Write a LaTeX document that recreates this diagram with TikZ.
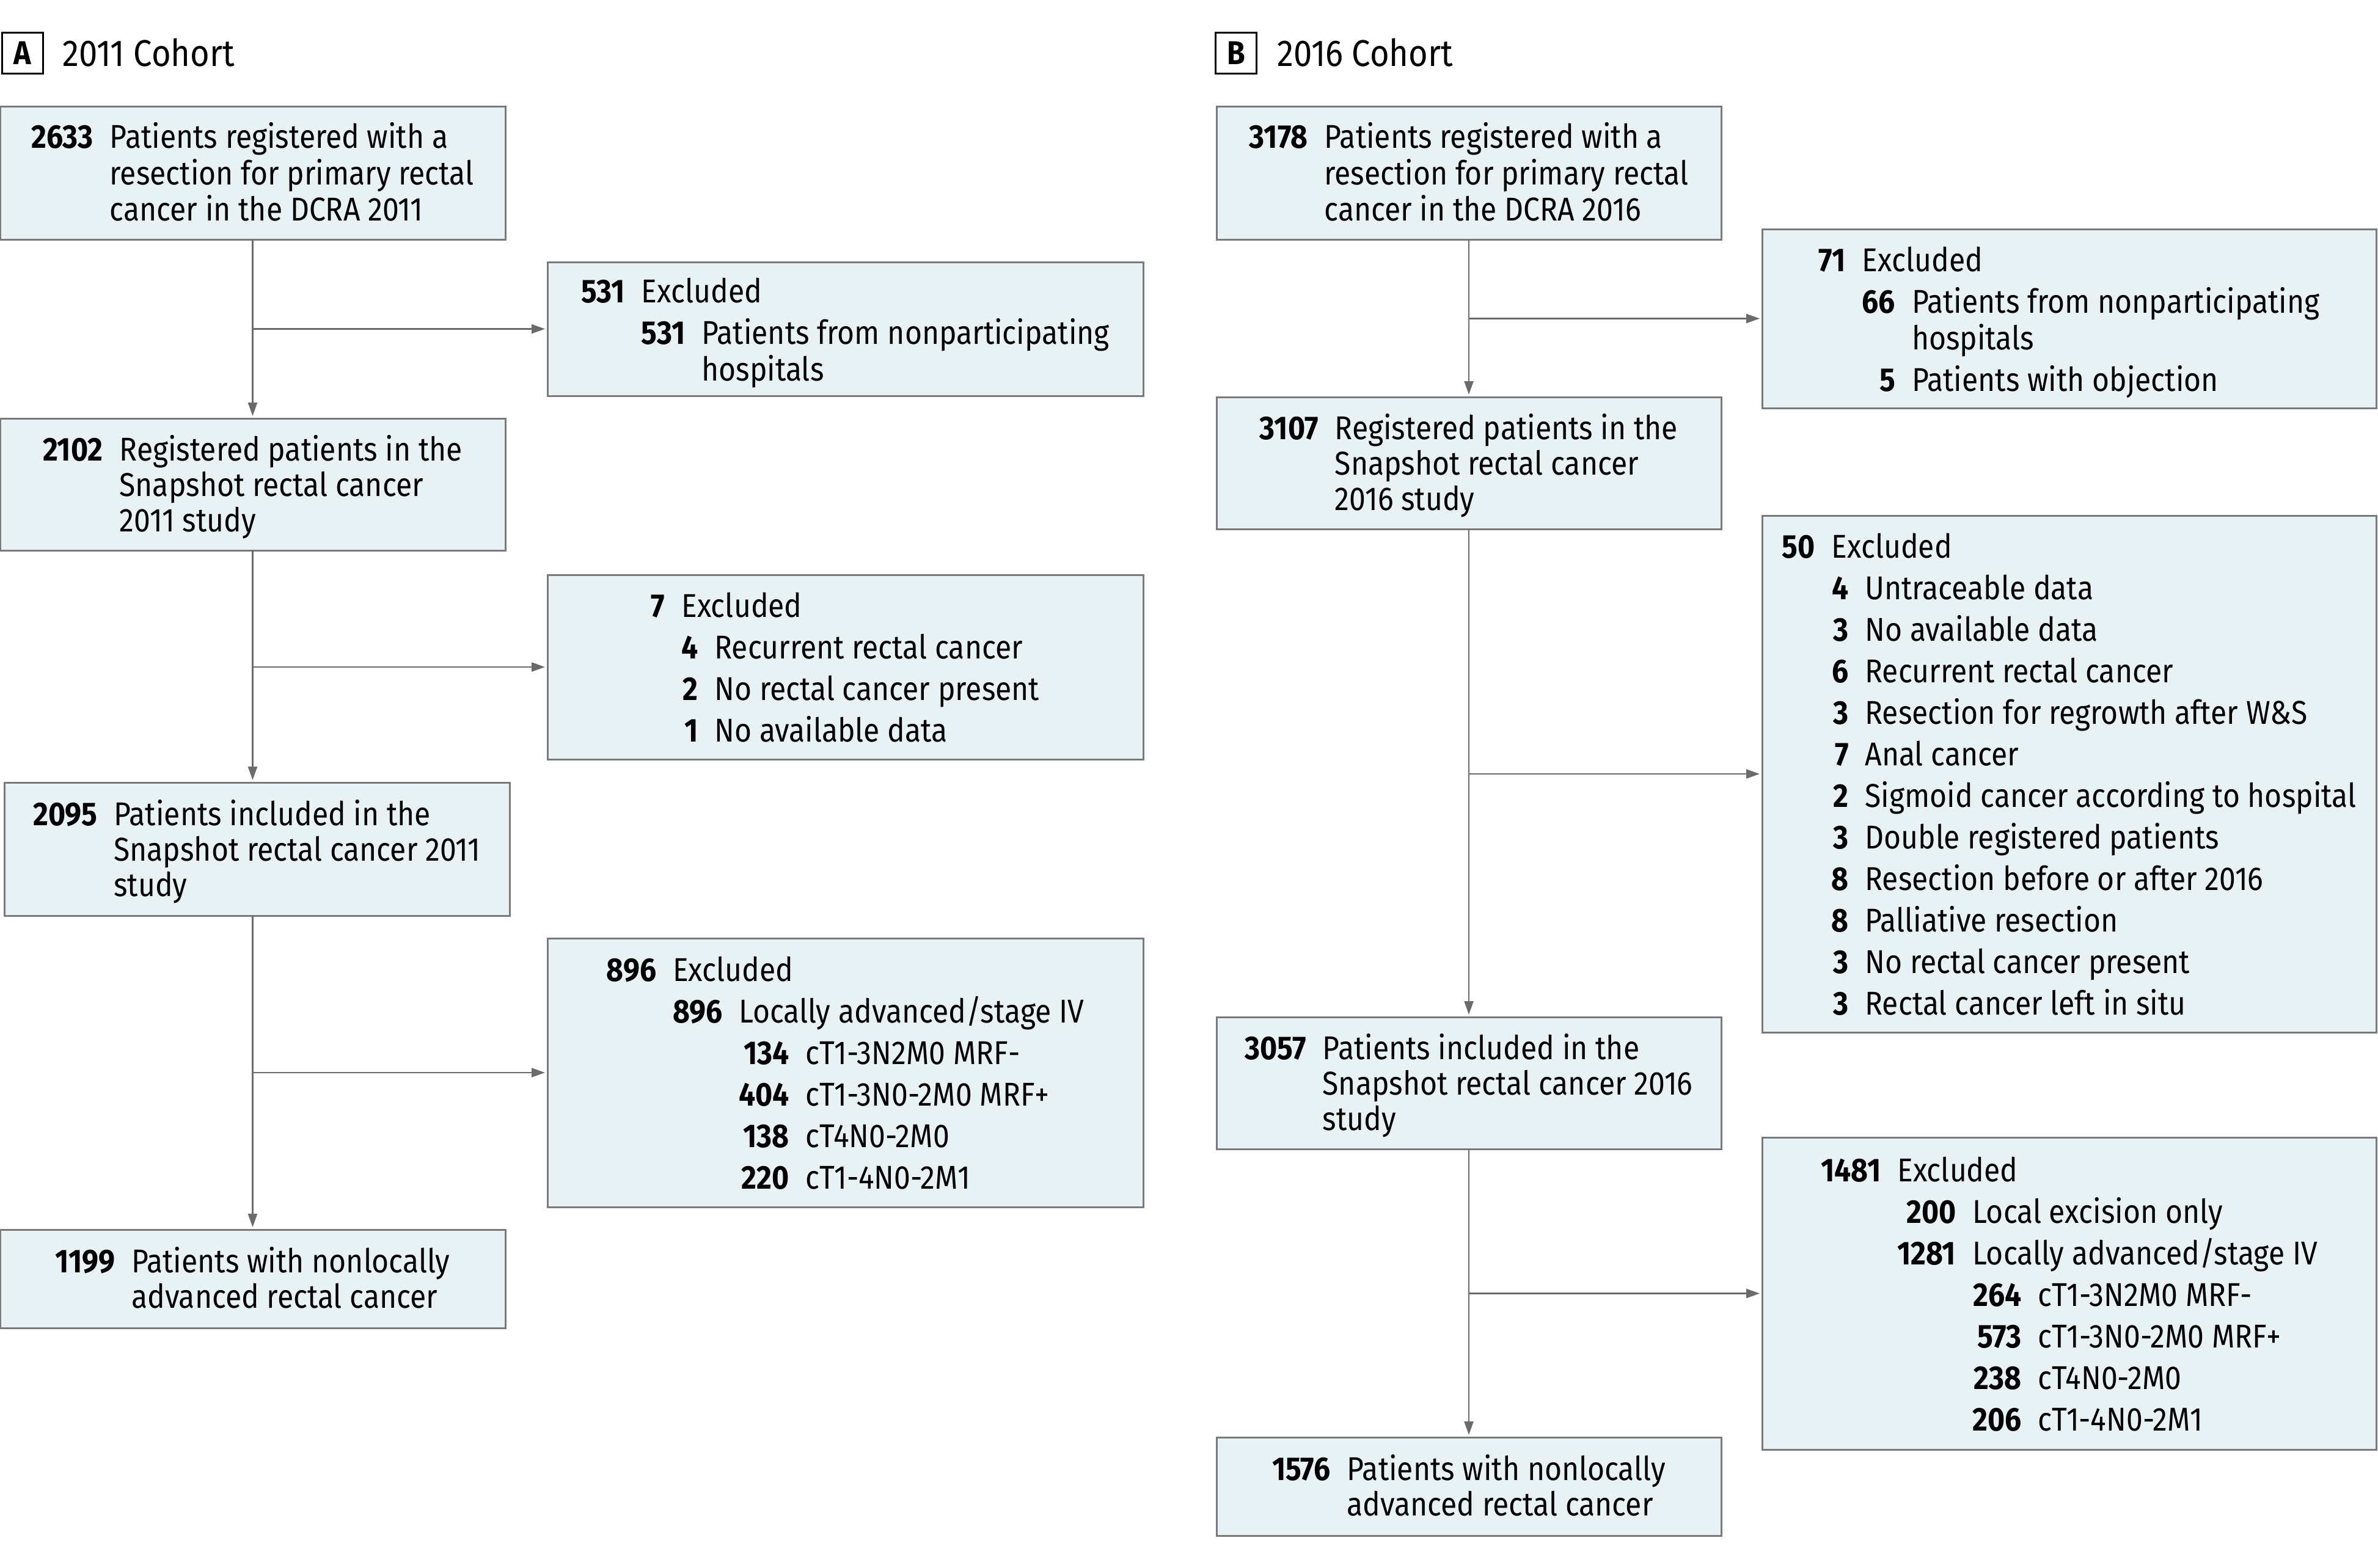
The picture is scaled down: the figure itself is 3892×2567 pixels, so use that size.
\documentclass[tikz,border=0pt]{standalone}
\usepackage{fontspec}
\setmainfont{Fira Sans}[FakeStretch=0.89]
\usetikzlibrary{arrows.meta}
\definecolor{boxfill}{HTML}{E8F2F4}
\definecolor{boxline}{HTML}{7A7A7A}
\definecolor{linecol}{HTML}{6B6B6B}
\tikzset{
  box/.style={draw=boxline, fill=boxfill, line width=3pt, inner sep=0pt, outer sep=0pt,
    font=\fontsize{54}{58}\selectfont},
  exbox/.style={box, font=\fontsize{54}{68}\selectfont},
  arr/.style={draw=linecol, line width=2.5pt, shorten >=4pt, -{Triangle[length=22pt,width=15pt]}},
  panellab/.style={draw=black, line width=3pt, minimum size=67pt, inner sep=0pt,
    font=\fontsize{54}{58}\selectfont\bfseries},
  paneltitle/.style={anchor=west, inner sep=0pt, font=\fontsize{61}{66}\selectfont}
}
\newcommand{\nb}[1]{\textbf{#1}}
\newcommand{\mc}[2]{\multicolumn{#1}{@{}l@{}}{#2}}
\newcommand{\topsp}{\noalign{\vskip 14pt}}
\begin{document}
\begin{tikzpicture}[x=1pt,y=-1pt]
\useasboundingbox (0,0) rectangle (3892,2567);
% ---------- Panel A ----------
\node[panellab] (LA) at (36.5,86.5) {A};
\node[paneltitle] (TA) at (102,86.5) {2011 Cohort};

\node[box, minimum width=827pt, minimum height=218pt] (B1) at (413.5,283)
 {\begin{tabular}{@{}r@{\hspace{0.5em}}l@{}}\topsp
  \nb{2633} & Patients registered with a\\
   & resection for primary rectal\\
   & cancer in the DCRA 2011
 \end{tabular}};
\node[exbox, minimum width=975pt, minimum height=219pt] (E1) at (1383.5,538.5)
 {\begin{tabular}{@{}r@{\hspace{0.5em}}r@{\hspace{0.5em}}l@{}}\topsp
  \nb{531} & \mc{2}{Excluded}\\
   & \nb{531} & Patients from nonparticipating\\[-8pt]
   & & hospitals
 \end{tabular}};
\node[box, minimum width=827pt, minimum height=216pt] (B2) at (413.5,793)
 {\begin{tabular}{@{}r@{\hspace{0.5em}}l@{}}\topsp
  \nb{2102} & Registered patients in the\\
   & Snapshot rectal cancer\\
   & 2011 study
 \end{tabular}};
\node[exbox, minimum width=975pt, minimum height=302pt] (E2) at (1383.5,1092)
 {\begin{tabular}{@{}r@{\hspace{0.5em}}r@{\hspace{0.5em}}l@{}}\topsp
  \nb{7} & \mc{2}{Excluded}\\
   & \nb{4} & Recurrent rectal cancer\\
   & \nb{2} & No rectal cancer present\\
   & \nb{1} & No available data
 \end{tabular}};
\node[box, minimum width=827pt, minimum height=218pt] (B3) at (420.5,1390)
 {\begin{tabular}{@{}r@{\hspace{0.5em}}l@{}}\topsp
  \nb{2095} & Patients included in the\\
   & Snapshot rectal cancer 2011\\
   & study
 \end{tabular}};
\node[exbox, minimum width=975pt, minimum height=440pt] (E3) at (1383.5,1756)
 {\begin{tabular}{@{}r@{\hspace{0.5em}}r@{\hspace{0.5em}}r@{\hspace{0.5em}}l@{}}\topsp
  \nb{896} & \mc{3}{Excluded}\\
   & \nb{896} & \mc{2}{Locally advanced/stage IV}\\
   & & \nb{134} & cT1-3N2M0 MRF-\\
   & & \nb{404} & cT1-3N0-2M0 MRF+\\
   & & \nb{138} & cT4N0-2M0\\
   & & \nb{220} & cT1-4N0-2M1
 \end{tabular}};
\node[box, minimum width=827pt, minimum height=161pt] (B4) at (413.5,2093.5)
 {\begin{tabular}{@{}r@{\hspace{0.5em}}l@{}}\topsp
  \nb{1199} & Patients with nonlocally\\
   & advanced rectal cancer
 \end{tabular}};

\draw[arr] (B1.south) -- (B2.north);
\draw[arr] (B2.south) -- (B3.north -| B2.south);
\draw[arr] (B3.south -| B4.north) -- (B4.north);
\draw[arr] (B1.south |- E1.west) -- (E1.west);
\draw[arr] (B2.south |- E2.west) -- (E2.west);
\draw[arr] (B4.north |- E3.west) -- (E3.west);

% ---------- Panel B ----------
\node[panellab] (LB) at (2023,86.5) {B};
\node[paneltitle] (TB) at (2090,86.5) {2016 Cohort};

\node[box, minimum width=826pt, minimum height=218pt] (C1) at (2404,283)
 {\begin{tabular}{@{}r@{\hspace{0.5em}}l@{}}\topsp
  \nb{3178} & Patients registered with a\\
   & resection for primary rectal\\
   & cancer in the DCRA 2016
 \end{tabular}};
\node[exbox, minimum width=1005pt, minimum height=293pt] (E4) at (3386.5,521.5)
 {\begin{tabular}{@{}r@{\hspace{0.5em}}r@{\hspace{0.5em}}l@{}}\topsp
  \nb{71} & \mc{2}{Excluded}\\
   & \nb{66} & Patients from nonparticipating\\[-8pt]
   & & hospitals\\
   & \nb{5} & Patients with objection
 \end{tabular}};
\node[box, minimum width=826pt, minimum height=216pt] (C2) at (2404,758)
 {\begin{tabular}{@{}r@{\hspace{0.5em}}l@{}}\topsp
  \nb{3107} & Registered patients in the\\
   & Snapshot rectal cancer\\
   & 2016 study
 \end{tabular}};
\node[exbox, minimum width=1005pt, minimum height=846pt] (E5) at (3386.5,1267)
 {\begin{tabular}{@{}r@{\hspace{0.5em}}r@{\hspace{0.5em}}l@{}}\topsp
  \nb{50} & \mc{2}{Excluded}\\
   & \nb{4} & Untraceable data\\
   & \nb{3} & No available data\\
   & \nb{6} & Recurrent rectal cancer\\
   & \nb{3} & Resection for regrowth after W\&S\\
   & \nb{7} & Anal cancer\\
   & \nb{2} & Sigmoid cancer according to hospital\\
   & \nb{3} & Double registered patients\\
   & \nb{8} & Resection before or after 2016\\
   & \nb{8} & Palliative resection\\
   & \nb{3} & No rectal cancer present\\
   & \nb{3} & Rectal cancer left in situ
 \end{tabular}};
\node[box, minimum width=826pt, minimum height=216pt] (C3) at (2404,1773)
 {\begin{tabular}{@{}r@{\hspace{0.5em}}l@{}}\topsp
  \nb{3057} & Patients included in the\\
   & Snapshot rectal cancer 2016\\
   & study
 \end{tabular}};
\node[exbox, minimum width=1005pt, minimum height=511pt] (E6) at (3386.5,2117.5)
 {\begin{tabular}{@{}r@{\hspace{0.5em}}r@{\hspace{0.5em}}r@{\hspace{0.5em}}l@{}}\topsp
  \nb{1481} & \mc{3}{Excluded}\\
   & \nb{200} & \mc{2}{Local excision only}\\
   & \nb{1281} & \mc{2}{Locally advanced/stage IV}\\
   & & \nb{264} & cT1-3N2M0 MRF-\\
   & & \nb{573} & cT1-3N0-2M0 MRF+\\
   & & \nb{238} & cT4N0-2M0\\
   & & \nb{206} & cT1-4N0-2M1
 \end{tabular}};
\node[box, minimum width=826pt, minimum height=161pt] (C4) at (2404,2433.5)
 {\begin{tabular}{@{}r@{\hspace{0.5em}}l@{}}\topsp
  \nb{1576} & Patients with nonlocally\\
   & advanced rectal cancer
 \end{tabular}};

\draw[arr] (C1.south) -- (C2.north);
\draw[arr] (C2.south) -- (C3.north);
\draw[arr] (C3.south) -- (C4.north);
\draw[arr] (C1.south |- E4.west) -- (E4.west);
\draw[arr] (C2.south |- E5.west) -- (E5.west);
\draw[arr] (C3.south |- E6.west) -- (E6.west);
\end{tikzpicture}
\end{document}
